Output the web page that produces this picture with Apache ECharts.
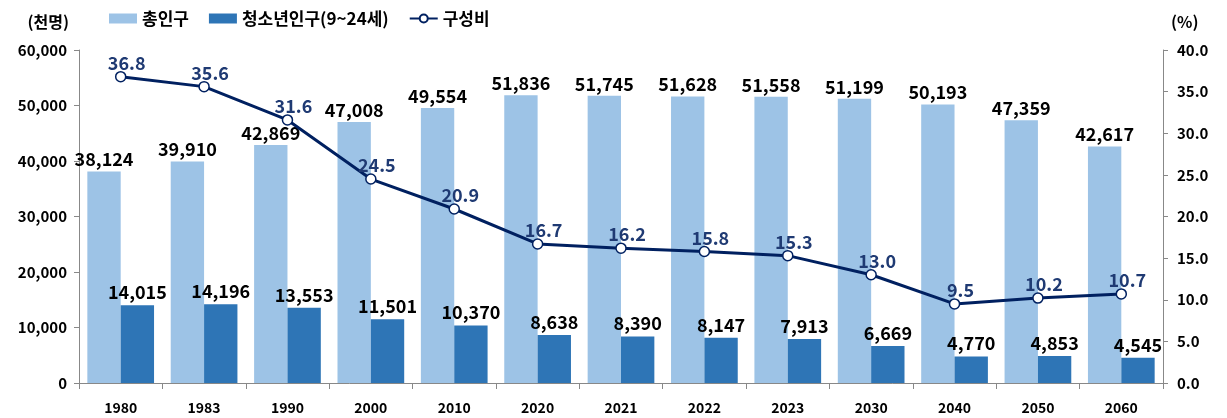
<!doctype html>
<html>
<head>
    <meta charset="utf-8">
    <title>청소년인구</title>
    <script src="https://cdn.jsdelivr.net/npm/echarts@6/dist/echarts.min.js"></script>
</head>
<body style="margin:0;padding:0;background:#fff">
    <div id="tb" style="width:1227px;height:418px"></div>
    <script>
        // 데이터
        var years = ['1980', '1983', '1990', '2000', '2010', '2020', '2021', '2022', '2023', '2030', '2040', '2050', '2060'];
        var totalPop = [38124, 39910, 42869, 47008, 49554, 51836, 51745, 51628, 51558, 51199, 50193, 47359, 42617];
        var youthPop = [14015, 14196, 13553, 11501, 10370, 8638, 8390, 8147, 7913, 6669, 4770, 4853, 4545];
        var ratio = [36.8, 35.6, 31.6, 24.5, 20.9, 16.7, 16.2, 15.8, 15.3, 13.0, 9.5, 10.2, 10.7];

        var font = '"Noto Sans CJK KR", "Noto Sans", sans-serif';
        var chart = echarts.init(document.getElementById('tb'));
        chart.setOption({
            animation: false,
            textStyle: { fontFamily: font },
            legend: {
                top: 5,
                left: 104,
                itemGap: 20,
                itemWidth: 28,
                itemHeight: 10,
                textStyle: { fontSize: 17, fontWeight: 'bold', color: '#000', fontFamily: font },
                data: [
                    { name: '총인구', icon: 'rect' },
                    { name: '청소년인구(9~24세)', icon: 'rect' },
                    { name: '구성비' }
                ]
            },
            grid: { left: 79, right: 64, top: 50, bottom: 35 },
            xAxis: {
                type: 'category',
                data: years,
                axisLine: { lineStyle: { color: '#888' } },
                axisTick: { show: true, lineStyle: { color: '#888' }, length: 6 },
                axisLabel: { color: '#000', fontWeight: 'bold', fontSize: 14, margin: 18 }
            },
            yAxis: [{
                type: 'value',
                name: '(천명)',
                nameLocation: 'end',
                nameGap: 20,
                nameTextStyle: { color: '#000', fontWeight: 'bold', fontSize: 16, align: 'right', padding: [0, 10, 0, 0] },
                min: 0, max: 60000, interval: 10000,
                axisLine: { show: true, lineStyle: { color: '#888' } },
                axisTick: { show: true, lineStyle: { color: '#888' } },
                splitLine: { show: false },
                axisLabel: {
                    color: '#000', fontWeight: 'bold', fontSize: 15, margin: 12,
                    formatter: function (v) { return v.toLocaleString('en-US'); }
                }
            }, {
                type: 'value',
                name: '(%)',
                nameLocation: 'end',
                nameGap: 20,
                nameTextStyle: { color: '#000', fontWeight: 'bold', fontSize: 16, align: 'left', padding: [0, 0, 0, 8] },
                min: 0, max: 40, interval: 5,
                axisLine: { show: true, lineStyle: { color: '#888' } },
                axisTick: { show: true, lineStyle: { color: '#888' } },
                splitLine: { show: false },
                axisLabel: {
                    color: '#000', fontWeight: 'bold', fontSize: 15, margin: 14,
                    formatter: function (v) { return v.toFixed(1); }
                }
            }],
            series: [{
                name: '총인구',
                type: 'bar',
                data: totalPop,
                barGap: '0%',
                barCategoryGap: '20%',
                itemStyle: { color: '#9DC3E6' },
                label: {
                    show: true, position: 'top', distance: 3,
                    color: '#000', fontWeight: 'bold', fontSize: 18,
                    formatter: function (p) { return p.value.toLocaleString('en-US'); }
                }
            }, {
                name: '청소년인구(9~24세)',
                type: 'bar',
                data: youthPop,
                itemStyle: { color: '#2E75B6' },
                label: {
                    show: true, position: 'top', distance: 4,
                    color: '#000', fontWeight: 'bold', fontSize: 18,
                    formatter: function (p) { return p.value.toLocaleString('en-US'); }
                }
            }, {
                name: '구성비',
                type: 'line',
                yAxisIndex: 1,
                data: ratio,
                symbol: 'circle',
                symbolSize: 10,
                z: 5,
                lineStyle: { color: '#002060', width: 3 },
                itemStyle: { color: '#fff', borderColor: '#002060', borderWidth: 1.5 },
                label: {
                    show: true, position: 'top', distance: 1, offset: [6, 2],
                    color: '#1F3A73', fontWeight: 'bold', fontSize: 18,
                    formatter: function (p) { return p.value.toFixed(1); }
                }
            }]
        });
    </script>
</body>
</html>
